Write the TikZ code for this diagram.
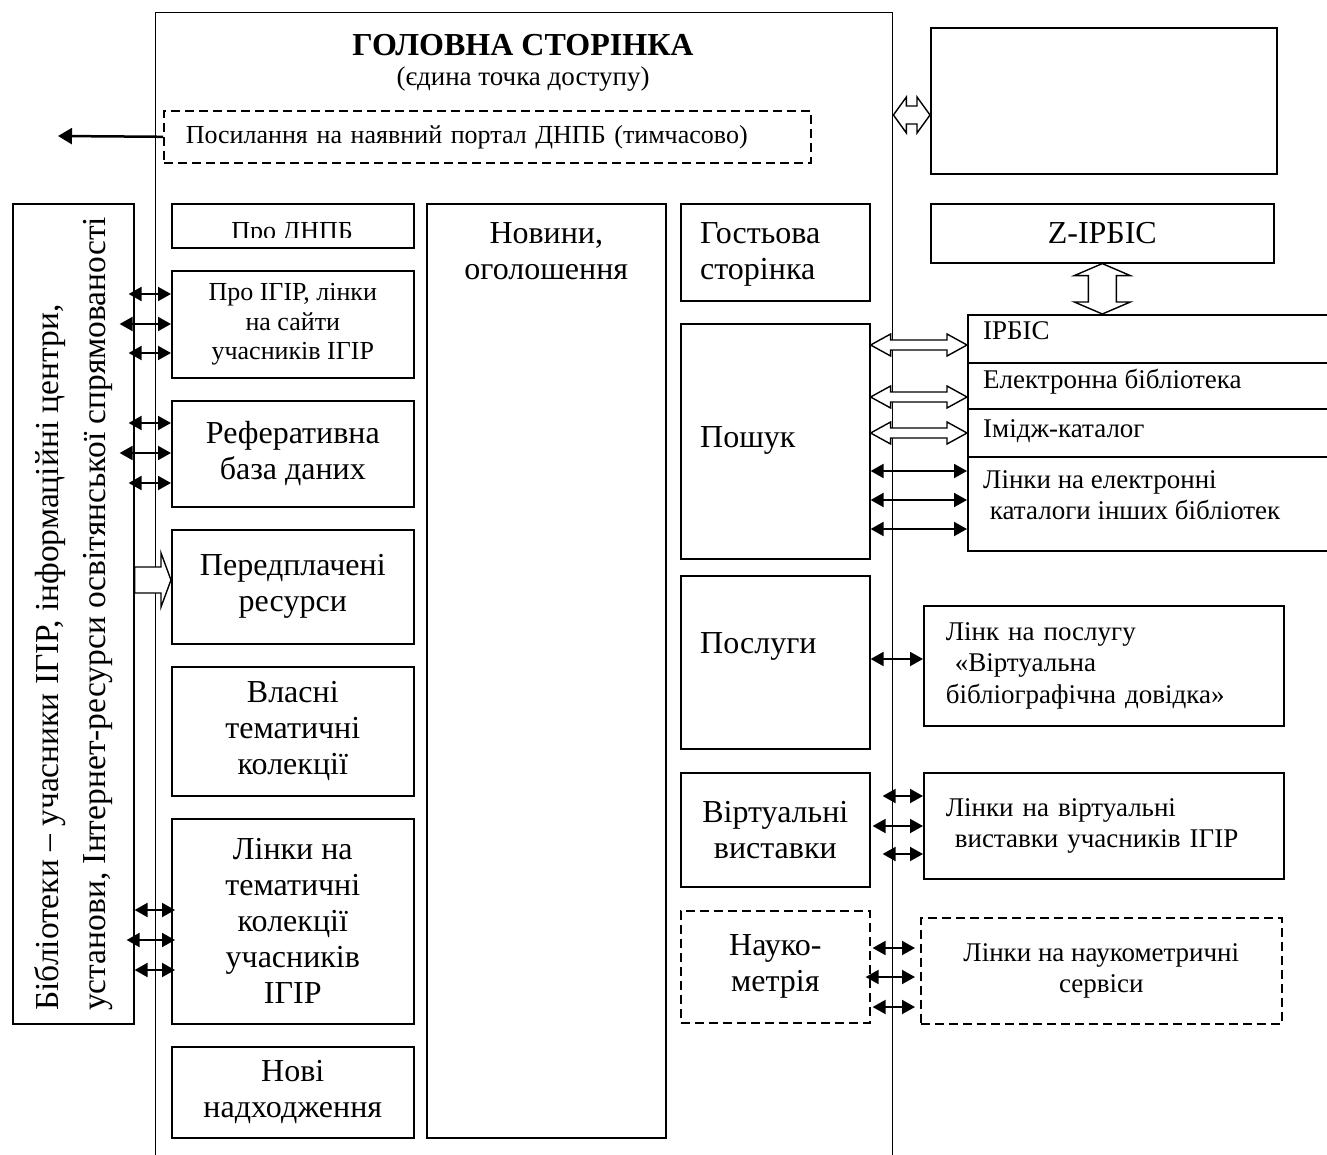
\documentclass[tikz,border=0pt]{standalone}
\usepackage{fontspec}
\setmainfont{Liberation Serif}
\usetikzlibrary{arrows.meta,calc}

\tikzset{
  box/.style={draw, line width=1.6pt, inner sep=0pt, anchor=north west, align=center},
  dashbox/.style={box, dash pattern=on 9pt off 5pt},
  bigfont/.style={font=\fontsize{32}{36}\selectfont},
  midfont/.style={font=\fontsize{27}{31.5}\selectfont},
  smallfont/.style={font=\fontsize{26}{29.5}\selectfont},
  txt/.style={inner sep=0pt, align=left},
  link/.style={{Triangle[length=13pt,width=14pt]}-{Triangle[length=13pt,width=14pt]}, line width=2pt},
  blockarr/.style={draw, fill=white, line width=1.4pt},
}

% hollow block arrow: ends #1 and #2, head length #3, half widths of head #4 and shaft #5
\newcommand{\blockarrow}[5]{%
  \draw[blockarr] (#1)
    -- ($(#1)!#3!(#2)!#4!90:(#2)$) -- ($(#1)!#3!(#2)!#5!90:(#2)$)
    -- ($(#2)!#3!(#1)!#5!-90:(#1)$) -- ($(#2)!#3!(#1)!#4!-90:(#1)$)
    -- (#2)
    -- ($(#2)!#3!(#1)!#4!90:(#1)$) -- ($(#2)!#3!(#1)!#5!90:(#1)$)
    -- ($(#1)!#3!(#2)!#5!-90:(#2)$) -- ($(#1)!#3!(#2)!#4!-90:(#2)$)
    -- cycle;}

\begin{document}
\begin{tikzpicture}[x=1pt,y=-1pt]
  \useasboundingbox (0,0) rectangle (1327,1155);
  % home page frame, open at the bottom:
  \node[box, line width=1.4pt, minimum width=737pt, minimum height=1170pt] (home) at (155,12) {};
  \node[font=\bfseries\fontsize{32}{36}\selectfont] (title) at (523,45) {ГОЛОВНА СТОРІНКА};
  \node[midfont] (subtitle) at (523,79) {(єдина точка доступу)};
  \node[dashbox, smallfont, minimum width=647pt, minimum height=52pt, align=left, text width=603pt, inner xsep=22pt] (portal) at (163,110) {Посилання на наявний портал ДНПБ (тимчасово)};
  \coordinate (out) at (58,136);
  \draw[-{Triangle[length=14pt,width=16pt]}, line width=2.5pt] (portal.west) -- (out);

  % left column:
  \node[box, minimum width=242pt, minimum height=44pt] (dnpb) at (171,203) {};
  \begin{scope}
    \clip (171,203) rectangle (413,238);
    \node[smallfont, anchor=base, inner sep=0pt] (dnpbt) at (292,240) {Про ДНПБ};
  \end{scope}
  \node[box, smallfont, minimum width=242pt, minimum height=107pt] (igir) at (171,270) {Про ІГІР, лінки\\на сайти\\учасників ІГІР};
  \node[box, bigfont, minimum width=242pt, minimum height=106pt] (ref) at (171,400) {Реферативна\\база даних};
  \node[box, bigfont, minimum width=242pt, minimum height=114pt] (pered) at (171,529) {Передплачені\\ресурси};
  \node[box, bigfont, minimum width=242pt, minimum height=129pt] (vlasni) at (171,666) {Власні\\тематичні\\колекції};
  \node[box, bigfont, minimum width=242pt, minimum height=205pt] (temat) at (171,818) {Лінки на\\тематичні\\колекції\\учасників\\ІГІР};
  \node[box, bigfont, minimum width=242pt, minimum height=91pt] (novi) at (171,1046) {Нові\\надходження};

  % news column:
  \node[box, minimum width=239pt, minimum height=934pt] (news) at (426,203) {};
  \node[bigfont, txt, align=center, anchor=north] (newst) at (news.north |- 0,222) {Новини,\\оголошення};

  % right column:
  \node[box, minimum width=189pt, minimum height=97pt] (guest) at (680,203) {};
  \node[bigfont, txt, anchor=north west] (guestt) at (700,222) {Гостьова\\сторінка};
  \node[box, minimum width=189pt, minimum height=235pt] (srch) at (680,323) {};
  \node[bigfont, anchor=base west, inner sep=0pt] (srcht) at (700,447) {Пошук};
  \node[box, minimum width=189pt, minimum height=173pt] (posl) at (680,575) {};
  \node[bigfont, anchor=base west, inner sep=0pt] (poslt) at (700,653) {Послуги};
  \node[box, bigfont, minimum width=189pt, minimum height=114pt] (virt) at (680,772) {Віртуальні\\виставки};
  \node[dashbox, bigfont, minimum width=189pt, minimum height=112pt] (nauk) at (680,910) {Науко-\\метрія};

  % outside resources:
  \node[box, minimum width=346pt, minimum height=146pt] (topbox) at (930,27) {};
  \node[box, bigfont, minimum width=343pt, minimum height=59pt] (zirbis) at (930,203) {Z-ІРБІС};
  % catalogue block, cut off by the page edge:
  \node[box, minimum width=380pt, minimum height=48pt] (irbis) at (967,314) {};
  \node[box, minimum width=380pt, minimum height=46pt] (elib) at (967,362) {};
  \node[box, minimum width=380pt, minimum height=48pt] (imcat) at (967,408) {};
  \node[box, minimum width=380pt, minimum height=94pt] (elinks) at (967,456) {};
  \node[midfont, anchor=base west, inner sep=0pt] (irbist) at (983,340) {ІРБІС};
  \node[midfont, anchor=base west, inner sep=0pt] (elibt) at (983,388) {Електронна бібліотека};
  \node[midfont, anchor=base west, inner sep=0pt] (imcatt) at (983,437) {Імідж-каталог};
  \node[midfont, txt, anchor=north west] (elinkst) at (983,470) {Лінки на електронні\\~каталоги інших бібліотек};
  \node[box, midfont, minimum width=360pt, minimum height=120pt, align=left, text width=316pt, inner xsep=22pt] (lnkpos) at (923,605) {Лінк на послугу\\~«Віртуальна\\бібліографічна довідка»};
  \node[box, midfont, minimum width=360pt, minimum height=106pt, align=left, text width=316pt, inner xsep=22pt] (lnkvirt) at (923,772) {Лінки на віртуальні\\~виставки учасників ІГІР};
  \node[dashbox, midfont, minimum width=361pt, minimum height=106pt] (lnknauk) at (920,917) {Лінки на наукометричні\\сервіси};

  % libraries box with turned text:
  \node[box, minimum width=121pt, minimum height=820pt] (lib) at (12,203) {};
  \node[rotate=90, align=left, inner sep=0pt, font=\fontsize{33.5}{47}\selectfont] (libt) at (lib.center) {Бібліотеки – учасники ІГІР, інформаційні центри,\\установи, Інтернет-ресурси освітянської спрямованості};

  % black two-way links:
  \foreach \y/\s in {294/6, 324/15, 353/6, 423/6, 453/15, 483/6}
    \draw[link, shorten <=-\s pt] (lib.east |- 0,\y) -- (igir.west |- 0,\y);
  \foreach \y/\s in {910/0, 940/8, 970/0}
    \draw[link, shorten <=-\s pt, shorten >=-4pt] (lib.east |- 0,\y) -- (temat.west |- 0,\y);
  \foreach \y in {471,500,529}
    \draw[link] (srch.east |- 0,\y) -- (elinks.west |- 0,\y);
  \draw[link] (posl.east |- 0,659) -- (lnkpos.west |- 0,659);
  \foreach \y/\s in {796/12, 826/2, 854/12}
    \draw[link, shorten <=\s pt] (virt.east |- 0,\y) -- (lnkvirt.west |- 0,\y);
  \foreach \y/\s in {948/2, 977/-5, 1007/2}
    \draw[link, shorten <=\s pt, shorten >=5pt] (nauk.east |- 0,\y) -- (lnknauk.west |- 0,\y);

  % hollow block arrows:
  \blockarrow{home.east |- 0,115}{topbox.west |- 0,115}{13pt}{18pt}{9pt}
  \blockarrow{zirbis.south}{zirbis.south |- irbis.north}{12pt}{28pt}{14pt}
  \foreach \y/\t in {345/irbis, 397/elib, 433/imcat}
    \blockarrow{srch.east |- 0,\y}{\t.west |- 0,\y}{20pt}{11pt}{5pt}
  \coordinate (pa) at (lib.east |- 0,580);
  \coordinate (pb) at (pered.west |- 0,580);
  \draw[blockarr] ($(pa)!13pt!90:(pb)$) -- ($(pb)!10pt!(pa)!13pt!-90:(pa)$)
    -- ($(pb)!10pt!(pa)!27pt!-90:(pa)$) -- (pb) -- ($(pb)!10pt!(pa)!27pt!90:(pa)$)
    -- ($(pb)!10pt!(pa)!13pt!90:(pa)$) -- ($(pa)!13pt!-90:(pb)$) -- cycle;
\end{tikzpicture}
\end{document}
